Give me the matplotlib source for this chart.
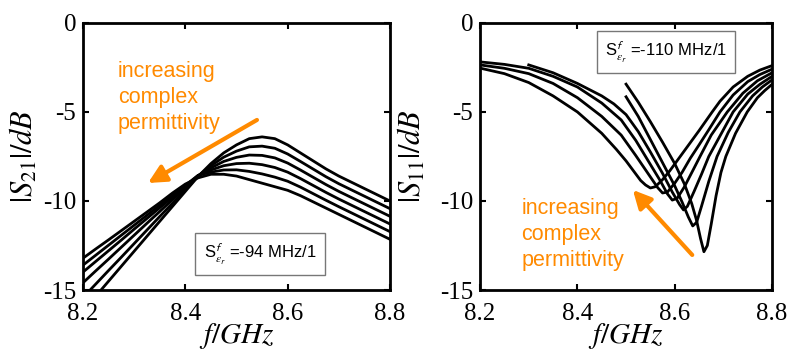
import numpy as np
import matplotlib
matplotlib.use("Agg")
import matplotlib.pyplot as plt

plt.rcParams['font.family'] = ['Liberation Serif', 'DejaVu Serif']
plt.rcParams['mathtext.fontset'] = 'stix'
plt.rcParams['axes.unicode_minus'] = False

orange = '#FF8A00'

# |S21| panel: common frequency grid, six curves (c0 = highest peak)
f21 = [8.200, 8.225, 8.250, 8.275, 8.300, 8.325, 8.350, 8.375, 8.400, 8.425, 8.450, 8.475, 8.500,
       8.525, 8.550, 8.575, 8.600, 8.625, 8.650, 8.675, 8.700, 8.725, 8.750, 8.775, 8.800]
s21_c0 = [-16.18, -15.34, -14.50, -13.66, -12.82, -11.98, -11.14, -10.30, -9.46, -8.62, -7.90, -7.30, -6.85,
          -6.50, -6.40, -6.50, -6.85, -7.30, -7.75, -8.20, -8.60, -8.95, -9.30, -9.65, -10.00]
s21_c1 = [-15.42, -14.66, -13.90, -13.15, -12.39, -11.63, -10.87, -10.12, -9.36, -8.60, -8.02, -7.54, -7.20,
          -6.96, -6.92, -7.04, -7.36, -7.78, -8.21, -8.64, -9.03, -9.38, -9.73, -10.08, -10.43]
s21_c2 = [-14.59, -13.92, -13.26, -12.59, -11.92, -11.25, -10.59, -9.92, -9.25, -8.58, -8.14, -7.78, -7.55,
          -7.42, -7.44, -7.58, -7.87, -8.26, -8.67, -9.08, -9.46, -9.81, -10.16, -10.51, -10.86]
s21_c3 = [-13.99, -13.39, -12.79, -12.19, -11.58, -10.98, -10.38, -9.78, -9.17, -8.57, -8.26, -8.02, -7.90,
          -7.88, -7.96, -8.12, -8.38, -8.74, -9.13, -9.52, -9.89, -10.24, -10.59, -10.94, -11.29]
s21_c4 = [-13.60, -13.04, -12.48, -11.92, -11.36, -10.80, -10.24, -9.68, -9.12, -8.56, -8.38, -8.26, -8.25,
          -8.34, -8.48, -8.66, -8.89, -9.22, -9.59, -9.96, -10.32, -10.67, -11.02, -11.37, -11.72]
s21_c5 = [-13.21, -12.69, -12.18, -11.66, -11.14, -10.62, -10.10, -9.55, -9.05, -8.70, -8.50, -8.50, -8.60,
          -8.80, -9.00, -9.20, -9.40, -9.70, -10.05, -10.40, -10.75, -11.10, -11.45, -11.80, -12.15]
s21_curves = [s21_c0, s21_c1, s21_c2, s21_c3, s21_c4, s21_c5]

# |S11| panel: each curve has its own frequency points
f11_a = [8.200, 8.250, 8.300, 8.350, 8.400, 8.450, 8.480, 8.500, 8.515, 8.530, 8.540, 8.550, 8.560, 8.575,
         8.590, 8.610, 8.630, 8.650, 8.677, 8.693, 8.720, 8.750, 8.775, 8.800]
s11_a = [-2.54, -2.85, -3.35, -4.10, -5.00, -6.20, -7.10, -7.75, -8.30, -8.85, -9.10, -9.27, -9.20, -8.80,
         -8.30, -7.55, -6.80, -6.05, -5.00, -4.40, -3.60, -3.00, -2.65, -2.40]
f11_b = [8.200, 8.250, 8.300, 8.350, 8.400, 8.450, 8.490, 8.520, 8.550, 8.565, 8.575, 8.585, 8.600, 8.615,
         8.632, 8.650, 8.670, 8.693, 8.720, 8.750, 8.775, 8.800]
s11_b = [-2.36, -2.55, -2.85, -3.40, -4.20, -5.25, -6.30, -7.45, -8.65, -9.25, -9.55, -9.50, -9.00, -8.40,
         -7.60, -6.85, -6.00, -5.00, -4.05, -3.30, -2.90, -2.60]
f11_c = [8.200, 8.250, 8.300, 8.350, 8.400, 8.450, 8.490, 8.520, 8.550, 8.570, 8.585, 8.595, 8.605, 8.620,
         8.637, 8.652, 8.675, 8.708, 8.740, 8.770, 8.800]
s11_c = [-2.19, -2.33, -2.55, -3.00, -3.60, -4.50, -5.45, -6.60, -7.95, -8.85, -9.60, -9.95, -9.85, -9.20,
         -8.30, -7.50, -6.30, -5.00, -3.95, -3.25, -2.80]
f11_d = [8.300, 8.350, 8.400, 8.450, 8.475, 8.500, 8.525, 8.550, 8.575, 8.595, 8.610, 8.618, 8.626, 8.640,
         8.655, 8.670, 8.695, 8.720, 8.750, 8.775, 8.800]
s11_d = [-2.36, -2.80, -3.40, -4.10, -4.55, -5.15, -6.10, -7.25, -8.45, -9.50, -10.20, -10.50, -10.30, -9.45,
         -8.50, -7.50, -6.25, -5.00, -4.00, -3.45, -3.00]
f11_e = [8.500, 8.525, 8.550, 8.575, 8.600, 8.615, 8.628, 8.637, 8.645, 8.655, 8.670, 8.687, 8.710, 8.734,
         8.760, 8.780, 8.800]
s11_e = [-4.15, -5.25, -6.55, -7.85, -9.15, -10.05, -10.90, -11.40, -11.20, -10.30, -8.90, -7.50, -6.15, -5.00,
         -4.10, -3.60, -3.20]
f11_f = [8.500, 8.525, 8.550, 8.575, 8.600, 8.620, 8.635, 8.645, 8.653, 8.660, 8.667, 8.675, 8.685, 8.695,
         8.705, 8.725, 8.749, 8.770, 8.785, 8.800]
s11_f = [-3.44, -4.45, -5.55, -6.70, -7.90, -9.05, -10.15, -11.10, -12.10, -12.85, -12.50, -11.30, -9.70, -8.40,
         -7.50, -6.20, -5.00, -4.20, -3.80, -3.45]
s11_curves = [(f11_a, s11_a), (f11_b, s11_b), (f11_c, s11_c), (f11_d, s11_d), (f11_e, s11_e), (f11_f, s11_f)]

xticks = [8.2, 8.4, 8.6, 8.8]
yticks = [-15, -10, -5, 0]

fig = plt.figure(figsize=(7.87, 3.52), dpi=100)
ax1 = fig.add_axes([0.1055, 0.176, 0.390, 0.759])
ax2 = fig.add_axes([0.610, 0.176, 0.371, 0.759])

for s in s21_curves:
    ax1.plot(f21, s, color='black', lw=2.0, solid_joinstyle='round')
for f, s in s11_curves:
    ax2.plot(f, s, color='black', lw=2.0, solid_joinstyle='round')

for ax, lab, lx in [(ax1, r'$|S_{21}|/dB$', -0.14), (ax2, r'$|S_{11}|/dB$', -0.178)]:
    ax.set_xlim(8.2, 8.8)
    ax.set_ylim(-15, 0)
    ax.set_xticks(xticks)
    ax.set_xticklabels(['8.2', '8.4', '8.6', '8.8'])
    ax.set_yticks(yticks)
    ax.set_yticklabels(['-15', '-10', '-5', '0'])
    ax.tick_params(direction='in', top=True, right=True, length=4, width=1.5, labelsize=18)
    ax.tick_params(axis='x', pad=9)
    ax.tick_params(axis='y', pad=5)
    for sp in ax.spines.values():
        sp.set_linewidth(2.0)
    ax.set_ylabel(lab, fontsize=22)
    ax.yaxis.set_label_coords(lx, 0.5)
    ax.set_xlabel(r'$f/GHz$', fontsize=21)
    ax.xaxis.set_label_coords(0.5, -0.115)

box_font = ['Liberation Sans', 'DejaVu Sans']

# annotations, left panel
ax1.text(8.268, -2.15, 'increasing\ncomplex\npermittivity', color=orange, fontsize=15.5,
         family=box_font, va='top', ha='left', linespacing=1.3)
ax1.annotate('', xy=(8.327, -8.99), xytext=(8.54, -5.45),
             arrowprops=dict(arrowstyle='-|>', color=orange, lw=3, mutation_scale=27, shrinkA=0, shrinkB=0))
ax1.text(8.546, -12.98, r'S$^{\mathsf{f}}_{\epsilon_{\mathsf{r}}}$ =-94 MHz/1', fontsize=12,
         family=box_font, ha='center', va='center',
         bbox=dict(boxstyle='square,pad=0.5', fc='white', ec='#777777', lw=1))

# annotations, right panel
ax2.text(8.285, -9.85, 'increasing\ncomplex\npermittivity', color=orange, fontsize=15.5,
         family=box_font, va='top', ha='left', linespacing=1.3)
ax2.annotate('', xy=(8.514, -9.38), xytext=(8.636, -13.03),
             arrowprops=dict(arrowstyle='-|>', color=orange, lw=3, mutation_scale=27, shrinkA=0, shrinkB=0))
ax2.text(8.582, -1.63, r'S$^{\mathsf{f}}_{\epsilon_{\mathsf{r}}}$ =-110 MHz/1', fontsize=12,
         family=box_font, ha='center', va='center',
         bbox=dict(boxstyle='square,pad=0.5', fc='white', ec='#777777', lw=1))

fig.savefig('out.png', dpi=100)
